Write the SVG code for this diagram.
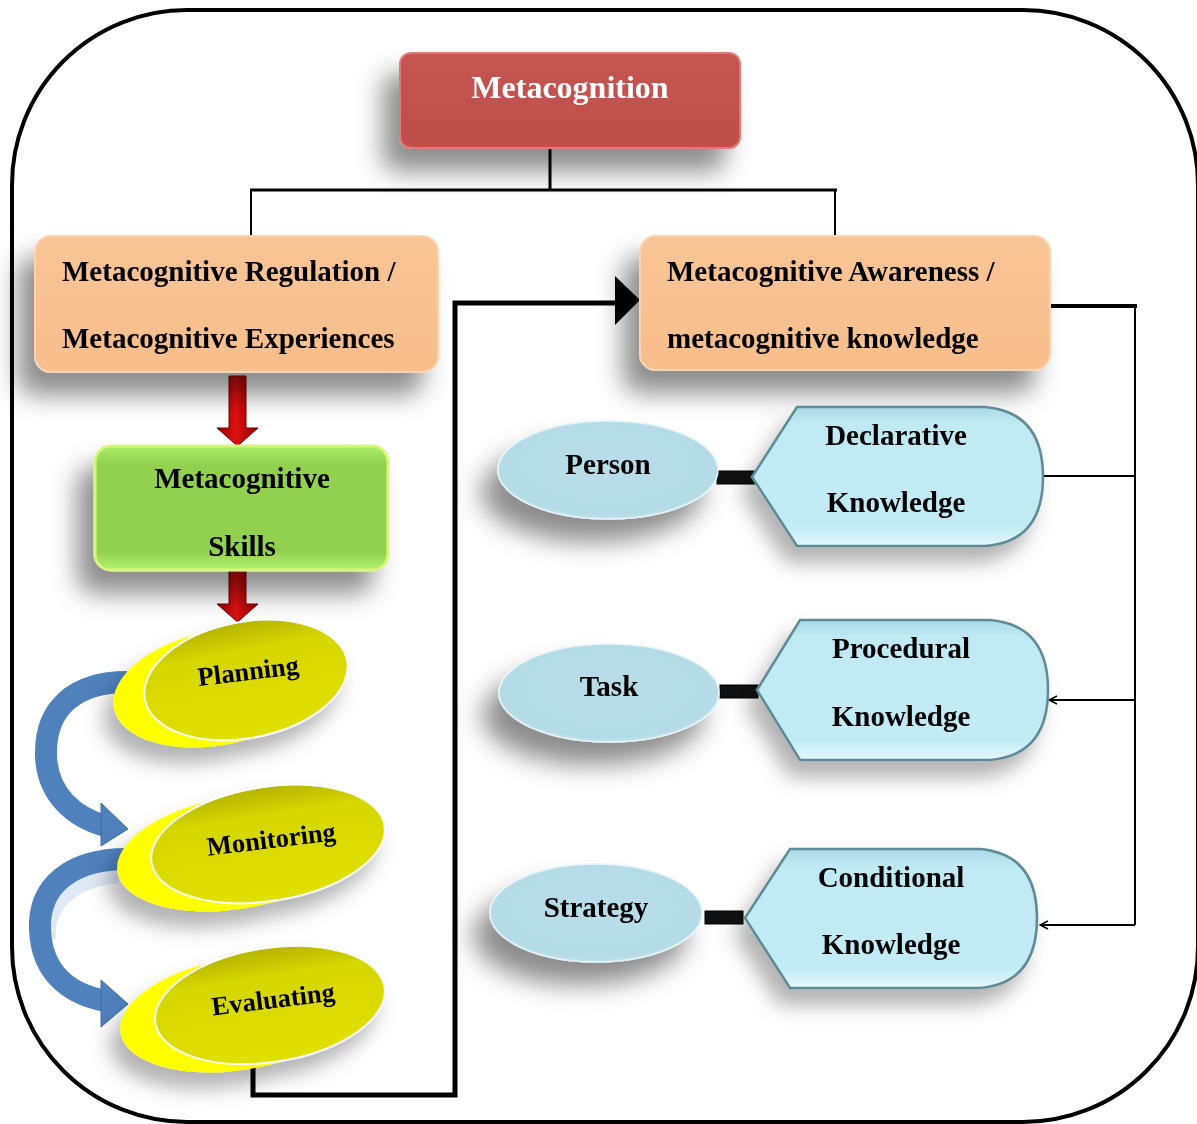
<svg xmlns="http://www.w3.org/2000/svg" width="1197" height="1124" viewBox="0 0 1197 1124">
  <defs>
    <filter id="shadow" x="-30%" y="-30%" width="160%" height="180%">
      <feDropShadow dx="-16" dy="22" stdDeviation="13" flood-color="#000" flood-opacity="0.45"/>
    </filter>
    <filter id="shadowSoft" x="-30%" y="-30%" width="160%" height="180%">
      <feDropShadow dx="-10" dy="16" stdDeviation="10" flood-color="#000" flood-opacity="0.3"/>
    </filter>
    <linearGradient id="gRed" x1="0" y1="0" x2="0" y2="1">
      <stop offset="0" stop-color="#c65451"/>
      <stop offset="1" stop-color="#bf4f4c"/>
    </linearGradient>
    <linearGradient id="gOrange" x1="0" y1="0" x2="0" y2="1">
      <stop offset="0" stop-color="#f9c496"/>
      <stop offset="1" stop-color="#f8be8c"/>
    </linearGradient>
    <linearGradient id="gGreen" x1="0" y1="0" x2="0" y2="1">
      <stop offset="0" stop-color="#a6ef66"/>
      <stop offset="0.15" stop-color="#92d050"/>
      <stop offset="0.85" stop-color="#92d050"/>
      <stop offset="1" stop-color="#b2f46e"/>
    </linearGradient>
    <linearGradient id="gCyan" x1="0" y1="0" x2="0" y2="1">
      <stop offset="0" stop-color="#a9d9e6"/>
      <stop offset="0.12" stop-color="#bfe9f3"/>
      <stop offset="0.85" stop-color="#c2ebf5"/>
      <stop offset="1" stop-color="#e3f8fc"/>
    </linearGradient>
    <radialGradient id="gOval" cx="0.5" cy="0.45" r="0.6">
      <stop offset="0" stop-color="#b8dde8"/>
      <stop offset="0.85" stop-color="#b5dbe6"/>
      <stop offset="1" stop-color="#d9f1f7"/>
    </radialGradient>
    <linearGradient id="gYellowFront" x1="0" y1="0" x2="0" y2="1">
      <stop offset="0" stop-color="#b5b500"/>
      <stop offset="0.25" stop-color="#d6d600"/>
      <stop offset="1" stop-color="#e0e000"/>
    </linearGradient>
    <linearGradient id="gArrowRed" x1="0" y1="0" x2="1" y2="0">
      <stop offset="0" stop-color="#8b0000"/>
      <stop offset="0.45" stop-color="#e01010"/>
      <stop offset="1" stop-color="#900000"/>
    </linearGradient>
    <marker id="openArrow" viewBox="0 0 10 10" refX="9" refY="5" markerWidth="10" markerHeight="10" markerUnits="userSpaceOnUse" orient="auto">
      <path d="M1,1 L9,5 L1,9" fill="none" stroke="#000" stroke-width="1.5"/>
    </marker>
    <style>
      .lbl { font-family: "Liberation Serif", "Times New Roman", serif; font-weight: bold; font-size: 29px; fill: #000; }
      .skill { font-size: 26.5px; }
      .title { font-family: "Liberation Serif", "Times New Roman", serif; font-weight: bold; font-size: 32px; fill: #fff; }
      .mid { text-anchor: middle; }
      .wire { fill: none; stroke: #000; }
      .bar { fill: #111; stroke: #000; stroke-width: 1; }
      .blueArrow { fill: none; stroke: #4f81bd; stroke-width: 22; }
      .blueHead { fill: #4f81bd; stroke: #3f6fa6; stroke-width: 1; }
    </style>
  </defs>

  <!-- outer frame -->
  <rect x="12" y="10" width="1186" height="1112" rx="175" ry="175" fill="#fff" stroke="#000" stroke-width="4"/>

  <!-- connectors -->
  <g id="connectors">
    <path class="wire" d="M550,148 V190" stroke-width="3"/>
    <path class="wire" d="M250,190 H837" stroke-width="3"/>
    <path class="wire" d="M251,190 V236" stroke-width="2"/>
    <path class="wire" d="M835,190 V236" stroke-width="2"/>
    <!-- loop from Evaluating back to awareness box -->
    <path class="wire" d="M253,1065 V1095 H455 V303 H618" stroke-width="5"/>
    <polygon points="615,276 640,300 615,325" fill="#000"/>
    <!-- right side bus -->
    <path class="wire" d="M1050,306 H1137" stroke-width="4"/>
    <path class="wire" d="M1135,306 V925" stroke-width="2"/>
    <path class="wire" d="M1135,476 H1043" stroke-width="2"/>
    <path class="wire" d="M1135,700 H1049" stroke-width="2" marker-end="url(#openArrow)"/>
    <path class="wire" d="M1135,925 H1040" stroke-width="2" marker-end="url(#openArrow)"/>
    <!-- bars linking ovals to knowledge shapes -->
    <rect class="bar" x="717" y="471" width="38" height="13"/>
    <rect class="bar" x="720" y="685" width="38" height="13"/>
    <rect class="bar" x="705" y="911" width="38" height="13"/>
    <!-- red block arrows -->
    <polygon points="229,376 246,376 246,428 258,428 237.5,446 217,428 229,428" fill="url(#gArrowRed)" stroke="#7a0000" stroke-width="1"/>
    <polygon points="229,571 246,571 246,604 258,604 237.5,622 217,604 229,604" fill="url(#gArrowRed)" stroke="#7a0000" stroke-width="1"/>
    <!-- blue curved arrows between skills -->
    <path d="M118,875 C70,880 45,905 48,940" fill="none" stroke="#c9d9ee" stroke-width="16" opacity="0.6"/>
    <path class="blueArrow" d="M127,682 C75,682 45,708 46,755 C47,795 75,818 106,826"/>
    <polygon class="blueHead" points="101,803 128,829 101,846"/>
    <path class="blueArrow" d="M127,859 C72,859 38,885 40,930 C42,975 72,995 106,1001"/>
    <polygon class="blueHead" points="101,980 128,1004 101,1027"/>
  </g>

  <g id="metacognition" filter="url(#shadow)">
    <rect x="400" y="53" width="340" height="95" rx="11" fill="url(#gRed)" stroke="#e07a77" stroke-width="2"/>
    <text class="title mid" x="570" y="98">Metacognition</text>
  </g>

  <g id="regulation" filter="url(#shadow)">
    <rect x="35" y="236" width="403" height="136" rx="16" fill="url(#gOrange)" stroke="#fbd3b0" stroke-width="2"/>
    <text class="lbl" x="62" y="281">Metacognitive Regulation /</text>
    <text class="lbl" x="62" y="348">Metacognitive Experiences</text>
  </g>

  <g id="awareness" filter="url(#shadow)">
    <rect x="640" y="236" width="410" height="134" rx="16" fill="url(#gOrange)" stroke="#fbd3b0" stroke-width="2"/>
    <text class="lbl" x="667" y="281">Metacognitive Awareness /</text>
    <text class="lbl" x="667" y="348">metacognitive knowledge</text>
  </g>

  <g id="skills" filter="url(#shadow)">
    <rect x="95" y="446" width="293" height="124" rx="16" fill="url(#gGreen)" stroke="#d6f57a" stroke-width="3"/>
    <text class="lbl mid" x="242" y="488">Metacognitive</text>
    <text class="lbl mid" x="242" y="556">Skills</text>
  </g>

  <g id="planning" filter="url(#shadowSoft)">
    <ellipse cx="218" cy="688" rx="106" ry="57" transform="rotate(-11 218 688)" fill="#ffff00"/>
    <ellipse cx="246" cy="680" rx="103" ry="58" transform="rotate(-11 246 680)" fill="url(#gYellowFront)" stroke="#fff" stroke-width="2"/>
    <text class="lbl skill mid" x="248" y="680" transform="rotate(-7 248 670)">Planning</text>
  </g>

  <g id="monitoring" filter="url(#shadowSoft)">
    <ellipse cx="236" cy="853" rx="120" ry="56" transform="rotate(-9 236 853)" fill="#ffff00"/>
    <ellipse cx="268" cy="844" rx="118" ry="57" transform="rotate(-9 268 844)" fill="url(#gYellowFront)" stroke="#fff" stroke-width="2"/>
    <text class="lbl skill mid" x="271" y="848" transform="rotate(-7 271 838)">Monitoring</text>
  </g>

  <g id="evaluating" filter="url(#shadowSoft)">
    <ellipse cx="239" cy="1014" rx="120" ry="56" transform="rotate(-9 239 1014)" fill="#ffff00"/>
    <ellipse cx="270" cy="1005" rx="116" ry="57" transform="rotate(-9 270 1005)" fill="url(#gYellowFront)" stroke="#fff" stroke-width="2"/>
    <text class="lbl skill mid" x="273" y="1008" transform="rotate(-7 273 998)">Evaluating</text>
  </g>

  <g id="person" filter="url(#shadow)">
    <ellipse cx="608" cy="470" rx="110" ry="49" fill="url(#gOval)" stroke="#e4f5fa" stroke-width="1.5"/>
    <text class="lbl mid" x="608" y="474">Person</text>
  </g>

  <g id="task" filter="url(#shadow)">
    <ellipse cx="609" cy="693" rx="110" ry="49" fill="url(#gOval)" stroke="#e4f5fa" stroke-width="1.5"/>
    <text class="lbl mid" x="609" y="696">Task</text>
  </g>

  <g id="strategy" filter="url(#shadow)">
    <ellipse cx="596" cy="913" rx="106" ry="49" fill="url(#gOval)" stroke="#e4f5fa" stroke-width="1.5"/>
    <text class="lbl mid" x="596" y="917">Strategy</text>
  </g>

  <g id="declarative" filter="url(#shadowSoft)">
    <path d="M752,477 L797,407 H985 Q1043,412 1043,477 Q1043,542 985,546 H797 Z" fill="url(#gCyan)" stroke="#5e8a96" stroke-width="2.5"/>
    <text class="lbl mid" x="896" y="445">Declarative</text>
    <text class="lbl mid" x="896" y="512">Knowledge</text>
  </g>

  <g id="procedural" filter="url(#shadowSoft)">
    <path d="M757,690 L800,620 H990 Q1048,625 1048,690 Q1048,755 990,760 H800 Z" fill="url(#gCyan)" stroke="#5e8a96" stroke-width="2.5"/>
    <text class="lbl mid" x="901" y="658">Procedural</text>
    <text class="lbl mid" x="901" y="726">Knowledge</text>
  </g>

  <g id="conditional" filter="url(#shadowSoft)">
    <path d="M745,918 L790,849 H980 Q1037,854 1037,918 Q1037,983 980,988 H790 Z" fill="url(#gCyan)" stroke="#5e8a96" stroke-width="2.5"/>
    <text class="lbl mid" x="891" y="887">Conditional</text>
    <text class="lbl mid" x="891" y="954">Knowledge</text>
  </g>
</svg>
